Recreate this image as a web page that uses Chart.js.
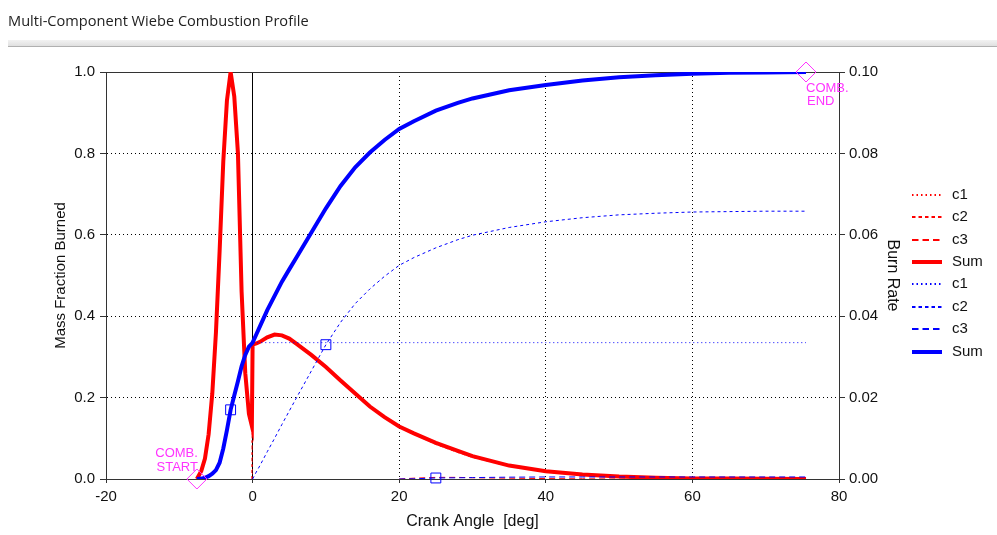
<!DOCTYPE html>
<html>
<head>
<meta charset="utf-8">
<script src="https://cdn.jsdelivr.net/npm/chart.js@4"></script>
<style>
  body { margin: 0; background: #fff; }
  #wrap { position: relative; width: 997px; height: 535px; overflow: hidden; }
  #chart { position: absolute; left: 0; top: 0; }
  #titre { position: absolute; left: 8px; top: 10px; font: 14.6px "Open Sans", sans-serif; color: #222; }
  #barre { position: absolute; left: 8px; top: 40px; width: 989px; height: 6px;
           background: linear-gradient(#f2f2f2, #e0e0e0); border-bottom: 1px solid #b0b0b0; }
</style>
</head>
<body>
<div id="wrap">
  <canvas id="chart" width="997" height="535"></canvas>
  <div id="titre">Multi-Component Wiebe Combustion Profile</div>
  <div id="barre"></div>
</div>
<script>
// crank angle grid [deg]
const crank = [-7.6, -7, -6.5, -6, -5.5, -5, -4.5, -4, -3.5, -3,
               -2.5, -2, -1.5, -1, -0.5, -0.1, 0, 0.5, 1, 2,
               3, 4, 5, 6, 8, 10, 12, 14, 16, 18,
               20, 22, 25, 28, 30, 35, 40, 45, 50, 55,
               60, 65, 70, 75.5];

// burn rate (right axis)
const rateSum = [0, 0.002, 0.005, 0.011, 0.021, 0.036, 0.056, 0.078, 0.093, 0.100,
                 0.094, 0.080, 0.046, 0.026, 0.016, 0.013, 0.033, 0.0333, 0.0337, 0.0348,
                 0.0355, 0.0353, 0.0345, 0.0332, 0.0305, 0.0275, 0.0242, 0.021, 0.0178, 0.0152,
                 0.0129, 0.0112, 0.0089, 0.0069, 0.0056, 0.0033, 0.0019, 0.0011, 0.0006, 0.0003,
                 0.00015, 0.0001, 0.00005, 0];
const rateC1 = [0, 0.002, 0.005, 0.011, 0.021, 0.036, 0.056, 0.078, 0.093, 0.100,
                0.094, 0.080, 0.046, 0.026, 0.016, 0.013, 0, null, null, null,
                null, null, null, null, null, null, null, null, null, null,
                null, null, null, null, null, null, null, null, null, null,
                null, null, null, null];
const rateC2 = [null, null, null, null, null, null, null, null, null, null,
                null, null, null, null, null, 0, 0.033, 0.0333, 0.0337, 0.0348,
                0.0355, 0.0353, 0.0345, 0.0332, 0.0305, 0.0275, 0.0242, 0.021, 0.0178, 0.0152,
                0.0129, 0.011, 0.0085, 0.0065, 0.0053, 0.0031, 0.0018, 0.00105, 0.0006, 0.0003,
                0.00015, 0.0001, 0.00005, 0];
const rateC3 = [null, null, null, null, null, null, null, null, null, null,
                null, null, null, null, null, null, null, null, null, null,
                null, null, null, null, null, null, null, null, null, null,
                0, 0.0002, 0.0004, 0.0004, 0.0003, 0.0002, 0.0001, 0.00005, 0, 0,
                0, 0, 0, 0];

// mass fraction burned (left axis)
const mfbSum = [0, 0.001, 0.003, 0.007, 0.013, 0.022, 0.04, 0.075, 0.12, 0.17,
                0.205, 0.24, 0.277, 0.305, 0.325, 0.333, 0.335, 0.355, 0.375, 0.415,
                0.45, 0.485, 0.515, 0.545, 0.605, 0.665, 0.72, 0.766, 0.802, 0.833,
                0.86, 0.879, 0.905, 0.924, 0.935, 0.955, 0.968, 0.979, 0.987, 0.992,
                0.996, 0.998, 0.999, 1.0];
const mfbC1 = [0, 0.001, 0.003, 0.007, 0.013, 0.022, 0.04, 0.075, 0.12, 0.17,
               0.205, 0.24, 0.277, 0.305, 0.325, 0.333, 0.335, 0.335, 0.335, 0.335,
               0.335, 0.335, 0.335, 0.335, 0.335, 0.335, 0.335, 0.335, 0.335, 0.335,
               0.335, 0.335, 0.335, 0.335, 0.335, 0.335, 0.335, 0.335, 0.335, 0.335,
               0.335, 0.335, 0.335, 0.335];
const mfbC2 = [null, null, null, null, null, null, null, null, null, null,
               null, null, null, null, null, null, 0, 0.017, 0.033, 0.067,
               0.1, 0.134, 0.167, 0.2, 0.265, 0.33, 0.385, 0.431, 0.467, 0.498,
               0.525, 0.544, 0.568, 0.588, 0.599, 0.618, 0.632, 0.642, 0.649, 0.653,
               0.656, 0.657, 0.658, 0.658];
const mfbC3 = [null, null, null, null, null, null, null, null, null, null,
               null, null, null, null, null, null, null, null, null, null,
               null, null, null, null, null, null, null, null, null, null,
               0, 0.0005, 0.0025, 0.003, 0.0035, 0.0045, 0.005, 0.005, 0.005, 0.005,
               0.005, 0.005, 0.005, 0.005];

// 50% burn points of each component
const halfAngle = [-3, 10, 25];
const halfValue = [0.17, 0.33, 0.0025];

// combustion start / end
const combAngle = [-7.6, 75.5];
const combValue = [0, 1];

const ROUGE = '#ff0000';
const BLEU = '#0000ff';
const ROSE = '#ff33ff';
const POLICE = '"Liberation Sans", Arial, sans-serif';

let pts = arr => crank.map((x, i) => ({ x: x, y: arr[i] }));

function serie(label, arr, color, dash, width, axe, ordre) {
    return {
        label: label,
        data: pts(arr),
        borderColor: color,
        backgroundColor: color,
        borderWidth: width,
        borderDash: dash,
        pointRadius: 0,
        fill: false,
        tension: 0,
        spanGaps: false,
        yAxisID: axe,
        order: ordre
    };
}

let datasets = [
    serie('c1', rateC1, ROUGE, [1, 3], 1, 'yR', 6),
    serie('c2', rateC2, ROUGE, [3, 3], 1, 'yR', 6),
    serie('c3', rateC3, ROUGE, [6, 4], 1, 'yR', 6),
    serie('Sum', rateSum, ROUGE, [], 4, 'yR', 5),
    serie('c1', mfbC1, BLEU, [1, 3], 1, 'yL', 3),
    serie('c2', mfbC2, BLEU, [3, 3], 1, 'yL', 3),
    serie('c3', mfbC3, BLEU, [6, 4], 1, 'yL', 3),
    serie('Sum', mfbSum, BLEU, [], 4, 'yL', 2),
    {
        label: 'half',
        type: 'scatter',
        data: halfAngle.map((x, i) => ({ x: x, y: halfValue[i] })),
        pointStyle: 'rect',
        pointRadius: 7,
        pointBorderColor: BLEU,
        pointBackgroundColor: 'rgba(0,0,0,0)',
        pointBorderWidth: 1,
        showLine: false,
        clip: false,
        yAxisID: 'yL',
        order: 1
    },
    {
        label: 'comb',
        type: 'scatter',
        data: combAngle.map((x, i) => ({ x: x, y: combValue[i] })),
        pointStyle: 'rectRot',
        pointRadius: 10,
        pointBorderColor: ROSE,
        pointBackgroundColor: 'rgba(0,0,0,0)',
        pointBorderWidth: 1,
        showLine: false,
        clip: false,
        yAxisID: 'yL',
        order: 0
    }
];

// frame around the plot area, drawn below the curves
const cadre = {
    id: 'cadre',
    beforeDatasetsDraw(chart) {
        let a = chart.chartArea, ctx = chart.ctx;
        ctx.save();
        ctx.strokeStyle = '#333';
        ctx.lineWidth = 1;
        ctx.strokeRect(Math.round(a.left) + 0.5, Math.round(a.top) + 0.5,
                       Math.round(a.right - a.left), Math.round(a.bottom - a.top));
        ctx.restore();
    }
};

// right-hand legend + COMB. START / END labels
const legende = {
    id: 'legende',
    afterDraw(chart) {
        let ctx = chart.ctx;
        ctx.save();
        ctx.font = '15px ' + POLICE;
        ctx.textBaseline = 'middle';
        for (let i = 0; i < 8; i++) {
            let ds = chart.data.datasets[i];
            let y = Math.round(195 + i * 22.37);
            ctx.strokeStyle = ds.borderColor;
            ctx.lineWidth = ds.borderWidth > 1 ? ds.borderWidth : 2;
            ctx.setLineDash(ds.borderDash.length ? ds.borderDash.map((d, k) => (k % 2 ? d : d + 0.5)) : []);
            ctx.beginPath();
            ctx.moveTo(912, y);
            ctx.lineTo(942, y);
            ctx.stroke();
            ctx.fillStyle = '#111';
            ctx.fillText(ds.label, 952, y);
        }
        ctx.setLineDash([]);

        let sx = chart.scales.x, sy = chart.scales.yL;
        ctx.font = '13px ' + POLICE;
        ctx.fillStyle = ROSE;
        let x0 = sx.getPixelForValue(combAngle[0]), y0 = sy.getPixelForValue(combValue[0]);
        ctx.textAlign = 'right';
        ctx.fillText('COMB.', x0 + 1, y0 - 26);
        ctx.fillText('START', x0 + 1, y0 - 12);
        let x1 = sx.getPixelForValue(combAngle[1]), y1 = sy.getPixelForValue(combValue[1]);
        ctx.textAlign = 'left';
        ctx.fillText('COMB.', x1, y1 + 16);
        ctx.fillText('END', x1 + 1, y1 + 29);
        ctx.restore();
    }
};

let pointille = c => (c.tick && c.tick.value === 0 ? [] : [1, 3]);

let config = {
    type: 'line',
    data: { datasets: datasets },
    options: {
        responsive: false,
        animation: false,
        layout: { padding: { left: 52, right: 95, top: 72, bottom: 4 } },
        plugins: { legend: { display: false }, tooltip: { enabled: false } },
        scales: {
            x: {
                type: 'linear',
                min: -20,
                max: 80,
                ticks: { stepSize: 20, padding: 5, color: '#111', font: { family: POLICE, size: 15 } },
                grid: { color: '#000', lineWidth: 1, tickLength: 4, tickColor: '#333' },
                border: { display: true, color: '#333', dash: pointille },
                title: { display: true, text: 'Crank Angle  [deg]', color: '#111',
                         font: { family: POLICE, size: 16 }, padding: { top: 0, bottom: 0 } },
                afterFit: s => { s.height = 52; }
            },
            yL: {
                position: 'left',
                min: 0,
                max: 1,
                ticks: { stepSize: 0.2, padding: 5, color: '#111', font: { family: POLICE, size: 15 },
                         callback: v => v.toFixed(1) },
                grid: { color: '#000', lineWidth: 1, tickLength: 6, tickColor: '#333' },
                border: { display: true, color: '#333', dash: [1, 3] },
                title: { display: true, text: 'Mass Fraction Burned', color: '#111',
                         font: { family: POLICE, size: 15 }, padding: { top: 0, bottom: 0 } },
                afterFit: s => { s.width = 54; }
            },
            yR: {
                position: 'right',
                min: 0,
                max: 0.1,
                ticks: { stepSize: 0.02, padding: 4, color: '#111', font: { family: POLICE, size: 15 },
                         callback: v => v.toFixed(2) },
                grid: { drawOnChartArea: false, tickLength: 6, tickColor: '#333' },
                border: { display: true, color: '#333' },
                title: { display: true, text: 'Burn Rate', color: '#111',
                         font: { family: POLICE, size: 16 }, padding: { top: 0, bottom: 0 } },
                afterFit: s => { s.width = 63; }
            }
        }
    },
    plugins: [cadre, legende]
};

let ctx = document.getElementById('chart').getContext('2d');
let myChart = new Chart(ctx, config);
</script>
</body>
</html>
